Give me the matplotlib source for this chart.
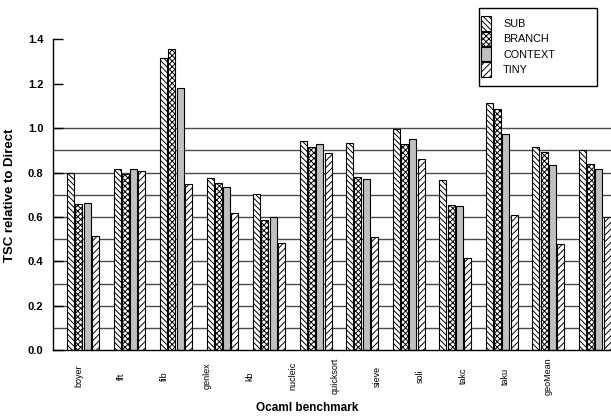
import numpy as np
import matplotlib
matplotlib.use("Agg")
import matplotlib.pyplot as plt
from matplotlib.patches import Rectangle

plt.rcParams["font.family"] = ["Liberation Sans", "DejaVu Sans"]
plt.rcParams["hatch.linewidth"] = 0.7

benchmarks = ["boyer", "fft", "fib", "genlex", "kb", "nucleic", "quicksort",
              "sieve", "soli", "takc", "taku", "geoMean"]
series_names = ["SUB", "BRANCH", "CONTEXT", "TINY"]
sub = [0.797, 0.817, 1.315, 0.776, 0.703, 0.944, 0.932, 0.994, 0.766, 1.113, 0.913, 0.901]
branch = [0.659, 0.794, 1.357, 0.752, 0.587, 0.914, 0.782, 0.929, 0.655, 1.087, 0.893, 0.838]
context = [0.665, 0.814, 1.180, 0.736, 0.602, 0.929, 0.773, 0.953, 0.650, 0.974, 0.835, 0.815]
tiny = [0.516, 0.809, 0.749, 0.617, 0.482, 0.887, 0.509, 0.862, 0.416, 0.611, 0.480, 0.599]
y_ticks = [0.0, 0.2, 0.4, 0.6, 0.8, 1.0, 1.2, 1.4]
grid_levels = [0.1, 0.2, 0.3, 0.4, 0.5, 0.6, 0.7, 0.8, 0.9, 1.0]

series = [sub, branch, context, tiny]
styles = [
    dict(facecolor="white", hatch="\\\\\\\\\\\\"),
    dict(facecolor="white", hatch="xxxxxx"),
    dict(facecolor="#c0c0c0", hatch=None),
    dict(facecolor="white", hatch="/////"),
]

W, H = 611, 417
fig = plt.figure(figsize=(W / 100, H / 100), dpi=100)
ax = fig.add_axes([53 / W, (H - 350.3) / H, 558 / W, (350.3 - 39.3) / H])

x = np.arange(len(benchmarks))
slot = 0.178
bar_w = 0.15
for k, (vals, st) in enumerate(zip(series, styles)):
    ax.bar(x + (k - 1.5) * slot, vals, width=bar_w, edgecolor="black",
           linewidth=0.8, zorder=2, label=series_names[k], **st)

for g in grid_levels:
    ax.axhline(g, color="#4a4a4a", linewidth=1.0, zorder=1)

ax.set_xlim(-0.645, 11.35)
ax.set_ylim(0, 1.4)

ax.spines["top"].set_visible(False)
ax.spines["right"].set_visible(False)
ax.spines["left"].set_linewidth(1.0)
ax.spines["bottom"].set_linewidth(1.0)

ax.set_yticks(y_ticks)
ax.set_yticklabels([f"{v:.1f}" for v in y_ticks], fontsize=8, fontweight="bold")
ax.tick_params(axis="y", direction="in", length=7, width=1, pad=7)

label_pos = np.linspace(-0.08, 10.0, len(benchmarks))
ax.set_xticks(label_pos)
ax.set_xticklabels(benchmarks, rotation=90, fontsize=6.5)
for lbl in ax.get_xticklabels():
    lbl.set_va("center")
ax.tick_params(axis="x", length=0, pad=18.5)

fig.text(10 / W, 1 - 195 / H, "TSC relative to Direct", rotation=90,
         ha="center", va="center", fontsize=9.5, fontweight="bold")
fig.text(307.5 / W, 1 - 408 / H, "Ocaml benchmark",
         ha="center", va="center", fontsize=8.5, fontweight="bold")

# Legend drawn in figure pixels: framed box with swatches and labels
def px(xp, yp):
    return xp / W, 1 - yp / H

bx0, by0, bx1, by1 = 479, 8, 597, 86
fig.patches.append(Rectangle(px(bx0, by1), (bx1 - bx0) / W, (by1 - by0) / H,
                             transform=fig.transFigure, facecolor="white",
                             edgecolor="black", linewidth=1.0, zorder=5))
row_h = 15.2
top = 16.5
for k, (name, st) in enumerate(zip(series_names, styles)):
    y_top = top + k * row_h
    fig.patches.append(Rectangle(px(481, y_top + row_h - 0.8), 10 / W, (row_h - 0.8) / H,
                                 transform=fig.transFigure, edgecolor="black",
                                 linewidth=0.8, zorder=6, **st))
    fig.text(503 / W, 1 - (y_top + row_h / 2) / H, name, ha="left", va="center",
             fontsize=7.8, zorder=7)

fig.savefig("out.png", dpi=100)
